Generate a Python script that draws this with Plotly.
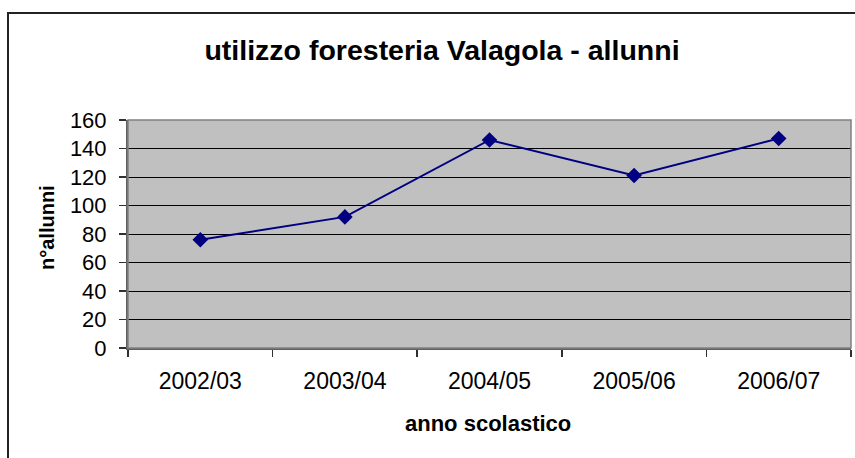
import plotly.graph_objects as go

categories = ["2002/03", "2003/04", "2004/05", "2005/06", "2006/07"]
allunni = [76, 92, 146, 121, 147]
y_ticks = [0, 20, 40, 60, 80, 100, 120, 140, 160]

W, H = 855, 458
# plot area in window pixels
PX0, PX1, PY0, PY1 = 128, 851, 120, 348
L, T = PX0, PY0
R, B = W - PX1, H - PY1
pw, ph = PX1 - PX0, PY1 - PY0

def px(x):
    return (x - PX0) / pw

def py(y):
    return (PY1 - y) / ph

FONT = "Arial, Liberation Sans, sans-serif"

fig = go.Figure()
fig.add_trace(go.Scatter(
    x=categories, y=allunni, mode="lines+markers",
    line=dict(color="#000080", width=2),
    marker=dict(symbol="diamond", size=12, color="#000080"),
    showlegend=False, hoverinfo="skip",
))

fig.update_layout(
    width=W, height=H,
    margin=dict(l=L, r=R, t=T, b=B, autoexpand=False),
    paper_bgcolor="white", plot_bgcolor="#C0C0C0",
    title=dict(text="<b>utilizzo foresteria Valagola - allunni</b>",
               x=px(442), xref="paper", xanchor="center",
               y=1 - 50 / H, yref="container", yanchor="middle",
               font=dict(family=FONT, size=28.5, color="black")),
    xaxis=dict(
        type="category", range=[-0.5, 4.5],
        tickson="boundaries", ticks="outside", ticklen=7, tickcolor="#303030", tickwidth=1.5,
        showgrid=False, showline=True, linecolor="#606060", linewidth=2,
        tickfont=dict(family=FONT, size=23, color="black"),
        ticklabelstandoff=11, zeroline=False,
    ),
    yaxis=dict(
        range=[0, 160], tickvals=y_ticks,
        ticks="outside", ticklen=7, tickcolor="#303030", tickwidth=1.5,
        showgrid=True, gridcolor="black", gridwidth=1,
        showline=True, linecolor="#606060", linewidth=2,
        tickfont=dict(family=FONT, size=22, color="black"),
        ticklabelstandoff=8, zeroline=False,
    ),
    annotations=[
        dict(text="<b>anno scolastico</b>", xref="paper", yref="paper",
             x=px(488), y=py(423), xanchor="center", yanchor="middle",
             showarrow=False, font=dict(family=FONT, size=22, color="black")),
        dict(text="<b>n°allunni</b>", xref="paper", yref="paper",
             x=px(47), y=py(228), xanchor="center", yanchor="middle",
             textangle=-90, showarrow=False,
             font=dict(family=FONT, size=20, color="black")),
    ],
    shapes=[
        dict(type="rect", xref="paper", yref="paper",
             x0=0, x1=1, y0=0, y1=1,
             line=dict(color="#808080", width=1.5), layer="above"),
        dict(type="rect", xref="paper", yref="paper",
             x0=px(8), x1=px(870), y0=py(480), y1=py(13),
             line=dict(color="#222222", width=2), fillcolor="rgba(0,0,0,0)"),
    ],
)

fig.write_html(
    "out.html",
    config={"displayModeBar": False, "staticPlot": True},
    post_script="document.body.style.margin='0';document.body.style.overflow='hidden';",
)
